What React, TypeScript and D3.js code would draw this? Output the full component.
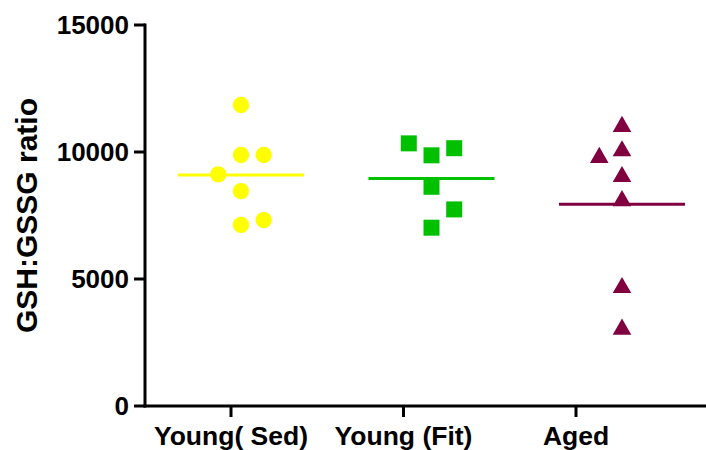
import { useEffect, useRef } from 'react';
import * as d3 from 'd3';

const categories = ['Young( Sed)', 'Young (Fit)', 'Aged'];
const sedValues = [11850, 9880, 9880, 9120, 8460, 7130, 7320];
const fitValues = [10340, 9870, 10150, 8630, 7740, 7020];
const agedValues = [11000, 10040, 9780, 9030, 8080, 4660, 3020];
// horizontal slot of each point in its column (scatter spread)
const sedSlots = [0, 0, 1, -1, 0, 0, 1];
const fitSlots = [-1, 0, 1, 0, 1, 0];
const agedSlots = [0, 0, -1, 0, 0, 0, 0];
const yTicks = [0, 5000, 10000, 15000];

const groups = [
  { name: categories[0], values: sedValues, slots: sedSlots, color: '#ffff00', shape: d3.symbolCircle },
  { name: categories[1], values: fitValues, slots: fitSlots, color: '#00c000', shape: d3.symbolSquare },
  { name: categories[2], values: agedValues, slots: agedSlots, color: '#800040', shape: d3.symbolTriangle },
];

export default function App() {
  const svgRef = useRef<SVGSVGElement>(null);

  useEffect(() => {
    const width = 706;
    const height = 450;
    const svg = d3.select(svgRef.current).attr('width', width).attr('height', height);
    svg.selectAll('*').remove();

    const font = 'Arial, "Liberation Sans", sans-serif';
    const axisX = 145;

    const y = d3.scaleLinear().domain([0, 15000]).range([406, 25]);
    // tick labels sit on one scale, the data columns on a wider one (as in the original)
    const xTick = d3.scalePoint().domain(categories).range([231, 576]);
    const xCol = d3.scalePoint().domain(categories).range([241, 622]);
    const slotW = 22.7;

    // y axis
    svg.append('line')
      .attr('x1', axisX).attr('x2', axisX)
      .attr('y1', y(15000) - 1.5).attr('y2', y(0) + 1.5)
      .attr('stroke', '#000').attr('stroke-width', 3);
    svg.selectAll('.ytick')
      .data(yTicks)
      .join('line')
      .attr('x1', axisX - 11).attr('x2', axisX)
      .attr('y1', d => y(d)).attr('y2', d => y(d))
      .attr('stroke', '#000').attr('stroke-width', 3);
    svg.selectAll('.ylab')
      .data(yTicks)
      .join('text')
      .attr('x', axisX - 16)
      .attr('y', d => y(d))
      .attr('dy', '0.36em')
      .attr('text-anchor', 'end')
      .attr('font-family', font)
      .attr('font-weight', 'bold')
      .attr('font-size', 26)
      .text(d => String(d));

    // x axis
    svg.append('line')
      .attr('x1', axisX - 1.5).attr('x2', width)
      .attr('y1', y(0)).attr('y2', y(0))
      .attr('stroke', '#000').attr('stroke-width', 3);
    svg.selectAll('.xtick')
      .data(categories)
      .join('line')
      .attr('x1', d => xTick(d)!).attr('x2', d => xTick(d)!)
      .attr('y1', y(0)).attr('y2', y(0) + 11)
      .attr('stroke', '#000').attr('stroke-width', 3);
    svg.selectAll('.xlab')
      .data(categories)
      .join('text')
      .attr('x', d => xTick(d)!)
      .attr('y', 445)
      .attr('text-anchor', 'middle')
      .attr('font-family', font)
      .attr('font-weight', 'bold')
      .attr('font-size', 26.5)
      .text(d => d);

    // y axis title
    svg.append('text')
      .attr('transform', `translate(37, ${(y(0) + y(15000)) / 2}) rotate(-90)`)
      .attr('text-anchor', 'middle')
      .attr('font-family', font)
      .attr('font-weight', 'bold')
      .attr('font-size', 30)
      .text('GSH:GSSG ratio');

    // points and mean lines
    groups.forEach(g => {
      const cx = xCol(g.name)!;
      const pts = g.values.map((v, i) => ({ v, s: g.slots[i] }));
      svg.append('g')
        .selectAll('path')
        .data(pts)
        .join('path')
        .attr('transform', d => `translate(${cx + d.s * slotW}, ${y(d.v)})`)
        .attr('d', d3.symbol().type(g.shape).size(g.shape === d3.symbolTriangle ? 150 : g.shape === d3.symbolSquare ? 256 : 210))
        .attr('fill', g.color);
      const m = d3.mean(g.values)!;
      svg.append('line')
        .attr('x1', cx - 63).attr('x2', cx + 63)
        .attr('y1', y(m)).attr('y2', y(m))
        .attr('stroke', g.color).attr('stroke-width', 3);
    });
  }, []);

  return (
    <div style={{ position: 'absolute', left: 0, top: 0 }}>
      <svg ref={svgRef} style={{ display: 'block' }}></svg>
    </div>
  );
}
